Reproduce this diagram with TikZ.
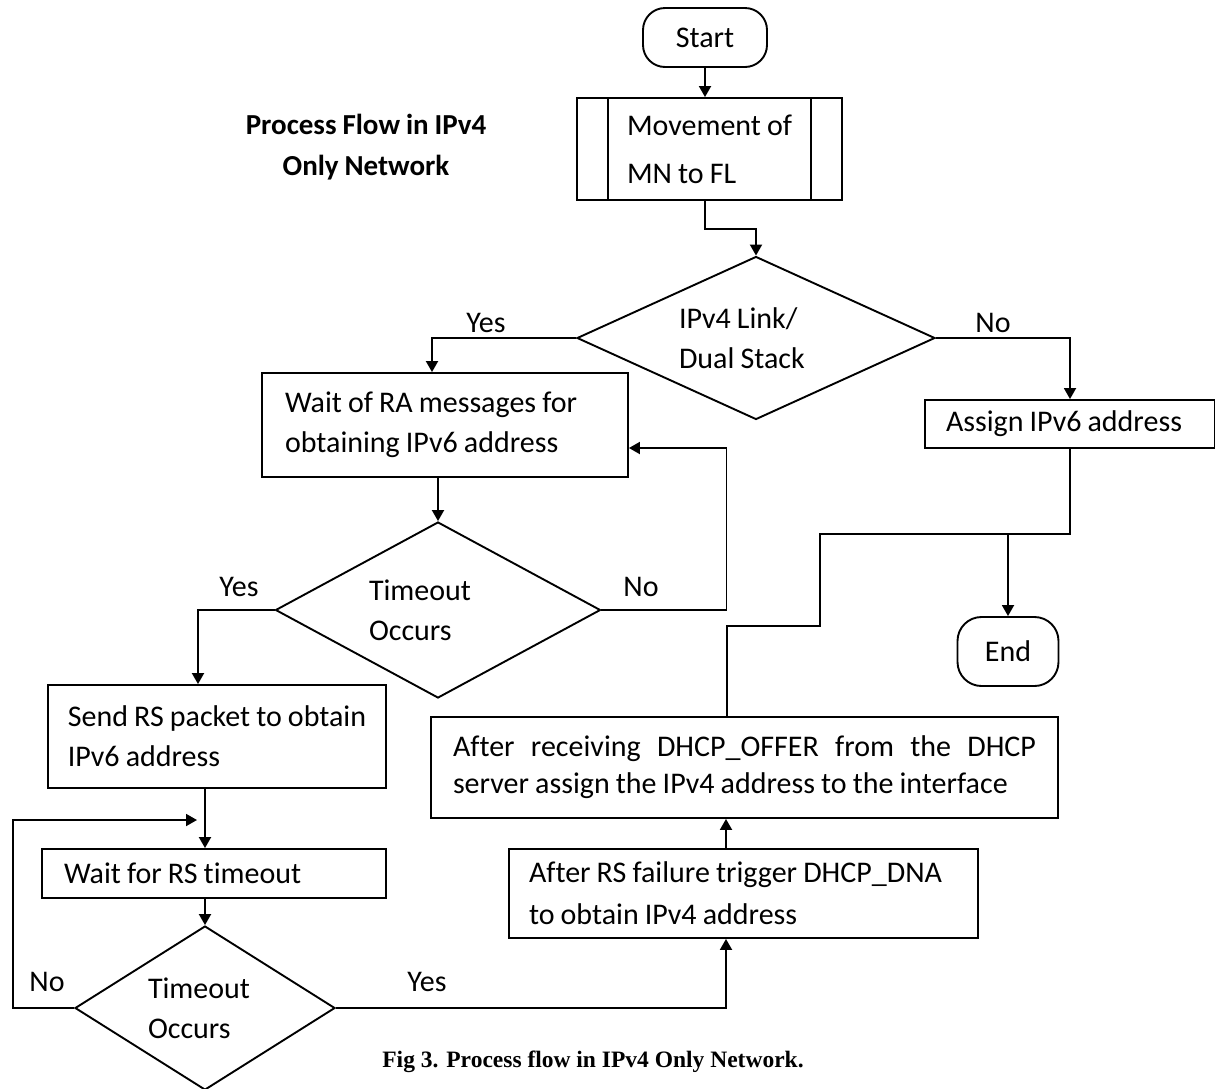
\documentclass[tikz,border=0pt]{standalone}
\usepackage{fontspec}
\setmainfont{Carlito}[WordSpace=0.9,Ligatures=NoCommon]
\newfontfamily\capfont{Liberation Serif}
\usetikzlibrary{positioning,arrows.meta,shapes.geometric}
\tikzset{
	flow/.style={>={Triangle[length=11pt,width=12pt]},line width=1.9pt,
		font=\fontsize{30}{40}\selectfont},
	term/.style={rectangle,draw,rounded corners=22pt,inner sep=0pt},
	procbox/.style={rectangle,draw,align=flush left,inner ysep=0pt},
	decision/.style={diamond,draw,align=flush left,inner sep=0pt},
	tag/.style={inner sep=0pt}
}

\begin{document}
\begin{tikzpicture}[flow,x=1pt,y=-1pt]
	\useasboundingbox (0,0) rectangle (1215,1088);
	
	\node[term, minimum width=124pt, minimum height=59pt] (start) at (705,37.5) {Start};
	\node[procbox, minimum height=102pt, text width=165pt, inner xsep=50pt] (mv) at (709.5,149) {Movement of\\[8pt]MN to FL};
	\node[decision, minimum width=358pt, minimum height=163pt, aspect=2.2, text width=154pt] (d1) at (756,338) {IPv4 Link/\\Dual Stack};
	\node[procbox, minimum height=104pt, text width=320pt, inner xsep=23pt] (ra) at (445,425) {Wait of RA messages for\\obtaining IPv6 address};
	\node[procbox, minimum height=48pt, text width=248pt, inner xsep=21pt] (as) at (1070,424) {Assign IPv6 address};
	\node[decision, minimum width=325pt, minimum height=176pt, aspect=1.85, text width=138pt] (d2) at (438,610) {Timeout\\Occurs};
	\node[procbox, minimum height=103pt, minimum width=338pt, inner xsep=0pt] (sr) at (217,736.5) {Send RS packet to obtain\\IPv6 address};
	\node[procbox, minimum height=49pt, text width=300pt, inner xsep=22pt] (wr) at (214,873.5) {Wait for RS timeout};
	\node[decision, minimum width=260pt, minimum height=164pt, aspect=1.6, text width=114pt] (d3) at (205,1008) {Timeout\\Occurs};
	\node[procbox, minimum height=101pt, text width=583pt, inner xsep=22pt] (offer) at (744.5,767.5) {\hbox to 583pt{After\hfill receiving\hfill DHCP\_OFFER\hfill from\hfill the\hfill DHCP}\\[-3pt]server assign the IPv4 address to the interface};
	\node[procbox, minimum height=89pt, text width=429pt, inner xsep=20pt] (rf) at (743.5,893.5) {After RS failure trigger DHCP\_DNA\\[2pt]to obtain IPv4 address};
	\node[term, minimum width=101pt, minimum height=69pt, rounded corners=24pt] (finish) at (1008,651.5) {End};
	
	\node[tag, align=center, font=\fontsize{29}{41}\selectfont\bfseries] (title) at (366,147) {Process Flow in IPv4\\Only Network};
	\node[tag, font=\fontsize{23.5}{26}\selectfont\capfont\bfseries] (caption) at (593,1062) {Fig 3. Process flow in IPv4 Only Network.};
	
	\node[tag] (y1) at (486,323) {Yes};
	\node[tag] (n1) at (993,323) {No};
	\node[tag] (y2) at (239,587) {Yes};
	\node[tag] (n2) at (641,587) {No};
	\node[tag] (n3) at (47,982) {No};
	\node[tag] (y3) at (427,982) {Yes};
	
	\coordinate (loopin) at (197,820);
	\coordinate (merge) at ([yshift=-85pt]as.south -| finish.north);
	
	\path[->] (start) edge (start |- mv.north);
	\draw ([xshift=32pt]mv.north west) -- ([xshift=32pt]mv.south west);
	\draw ([xshift=-32pt]mv.north east) -- ([xshift=-32pt]mv.south east);
	\draw[->] (mv.south -| start) -- ++(0,28) -| (d1.north);
	\draw[->] (d1.west) -| ([xshift=-13pt]ra.north);
	\draw[->] (d1.east) -| (as.north);
	\path[->] (d2.north |- ra.south) edge (d2.north);
	\draw[->] (d2.west) -| ([xshift=-19pt]sr.north);
	\draw[->] (d2.east) -- ++(125,0) |- ([yshift=-23pt]ra.east);
	\path[->] (d3.north |- sr.south) edge (d3.north |- wr.north);
	\path[->] (d3.north |- wr.south) edge (d3.north);
	\draw[->] (d3.west) -- ++(-61,0) |- (loopin);
	\draw[->] (d3.east) -| ([xshift=-17.5pt]rf.south);
	\path[->] ([xshift=-17.5pt]rf.north) edge ([xshift=-17.5pt]rf.north |- offer.south);
	\draw[->] (as.south) |- (merge) -- (finish.north);
	\draw ([xshift=-17.5pt]offer.north) -- ++(0,-90) -- ++(93,0) |- (merge);
	
\end{tikzpicture}
\end{document}
